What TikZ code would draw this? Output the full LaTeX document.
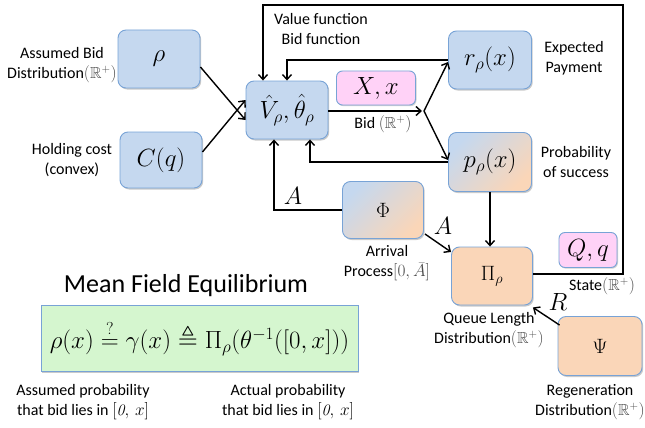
\documentclass[tikz,border=0pt]{standalone}
\usepackage{amsmath,amssymb}
\usepackage{fontspec}
\newfontfamily\lab{Carlito}
\usetikzlibrary{arrows.meta,shadows}
\definecolor{bfill}{RGB}{197,216,239}
\definecolor{bline}{RGB}{120,163,214}
\definecolor{peach}{RGB}{250,214,184}
\definecolor{pinkf}{RGB}{255,210,247}
\definecolor{greenf}{RGB}{213,246,207}
\newcommand{\Rp}{\textcolor{black!70}{$(\mathbb{R}^+)$}}
\begin{document}
\begin{tikzpicture}[x=1pt,y=-1pt,
  box/.style={draw=bline,line width=0.9pt,rounded corners=8pt,
    drop shadow={shadow xshift=1.2pt,shadow yshift=-1.5pt,opacity=0.35,fill=black!60},
    minimum width=82pt,minimum height=58pt,inner sep=0pt,
    font=\fontsize{27}{32}\selectfont},
  bluebox/.style={box,fill=bfill},
  peachbox/.style={box,fill=peach,font=\fontsize{22}{26}\selectfont},
  mixbox/.style={box,top color=bfill,bottom color=peach,shading angle=45},
  pinkbox/.style={draw=bline,line width=0.9pt,rounded corners=6pt,fill=pinkf,
    drop shadow={shadow xshift=1pt,shadow yshift=-1.2pt,opacity=0.3,fill=black!60},
    inner sep=0pt,font=\fontsize{23}{27}\selectfont},
  lbl/.style={font=\lab\fontsize{16}{20}\selectfont,align=center,inner sep=0pt},
  conn/.style={line width=1.4pt,-{Straight Barb[length=5pt,width=9pt,line width=1.4pt]}},
  alab/.style={font=\fontsize{23}{27}\selectfont,inner sep=0pt}
]
\useasboundingbox (0,0) rectangle (645,428);

% nodes
\node[bluebox] (rho) at (159,59) {$\rho$};
\node[bluebox,minimum height=56pt] (C) at (161,160) {$C(q)$};
\node[bluebox] (V) at (287,110) {$\hat{V}_\rho,\hat{\theta}_\rho$};
\node[bluebox,minimum width=83pt] (r) at (490,60) {$r_\rho(x)$};
\node[pinkbox,minimum width=79pt,minimum height=34pt] (X) at (376,88) {$X,x$};
\node[mixbox,minimum width=83pt,minimum height=59pt] (p) at (490,162) {$p_\rho(x)$};
\node[mixbox,minimum width=81pt,minimum height=57pt,font=\fontsize{22}{26}\selectfont] (Phi) at (383,210) {$\Phi$};
\node[peachbox,minimum width=81pt] (Pi) at (492,276) {$\Pi_\rho$};
\node[pinkbox,minimum width=58pt,minimum height=35pt] (Q) at (588,250) {$Q,q$};
\node[peachbox,minimum width=84pt,minimum height=59pt] (Psi) at (600,346) {$\Psi$};
\node[draw=bline,line width=0.9pt,fill=greenf,minimum width=317pt,minimum height=66pt,
  drop shadow={shadow xshift=1.2pt,shadow yshift=-1.5pt,opacity=0.35,fill=black!60},
  inner sep=0pt,font=\fontsize{25.8}{30}\selectfont] (eq) at (199.5,338)
  {$\rho(x)\overset{?}{=}\gamma(x)\triangleq\Pi_\rho(\theta^{-1}([0,x]))$};

% coordinates
\coordinate (S) at (424,111);
\coordinate (T1) at (623,5);
\coordinate (T2) at (263,5);

% connectors
\draw[conn] (rho.east) ++(0,8) -- ([yshift=-10pt]V.west);
\draw[conn] (C.east) ++(0,-8) -- ([yshift=10pt]V.west);
\draw[conn] (Pi.east |- 0,274) -| (T1) -| (V.north -| T2);
\draw[conn] (r.west |- 0,60) -| (V.north -| 287,0);
\draw[conn] (p.west |- 0,162) -| (V.south -| 310,0);
\draw[conn] (Phi.west) -| (V.south -| 274,0);
\draw[conn] (V.east |- 0,111) -- ([xshift=-2pt]S);
\draw[conn] (S) -- (r.west |- 0,62);
\draw[conn] (S) -- (p.west |- 0,160);
\draw[conn] (p.south) -- (Pi.north -| p.south);
\draw[conn] (425,234) -- (Pi.west |- 0,252);
\draw[conn] (Psi.north west) ++(2,9) -- ([yshift=-2pt]Pi.south east);

% arrow labels
\node[alab] (A1) at (293,196) {$A$};
\node[alab] (A2) at (443,226) {$A$};
\node[alab] (R) at (558,302) {$R$};

% text labels
\node[lbl] (l1) at (62,65) {Assumed Bid\\Distribution\Rp};
\node[lbl] (l2) at (72,160) {Holding cost\\(convex)};
\node[lbl] (l3) at (321,29) {Value function\\Bid function};
\node[lbl] (l4) at (574,58) {Expected\\Payment};
\node[lbl] (l5) at (576,162) {Probability\\of success};
\node[lbl] (l6) at (383,124) {Bid \Rp};
\node[lbl] (l7) at (387,263) {Arrival\\Process\textcolor{black!70}{$[0,\bar{A}]$}};
\node[lbl] (l8) at (489,330) {Queue Length\\Distribution\Rp};
\node[lbl] (l9) at (602,286) {State\Rp};
\node[lbl] (l10) at (590,402) {Regeneration\\Distribution\Rp};
\node[font=\lab\fontsize{26}{30}\selectfont,inner sep=0pt] (mfe) at (186,286) {Mean Field Equilibrium};
\node[lbl] (l11) at (83,402) {Assumed probability\\that bid lies in $[\mathit{0},\,x]$};
\node[lbl] (l12) at (288,402) {Actual probability\\that bid lies in $[\mathit{0},\,x]$};
\end{tikzpicture}
\end{document}
